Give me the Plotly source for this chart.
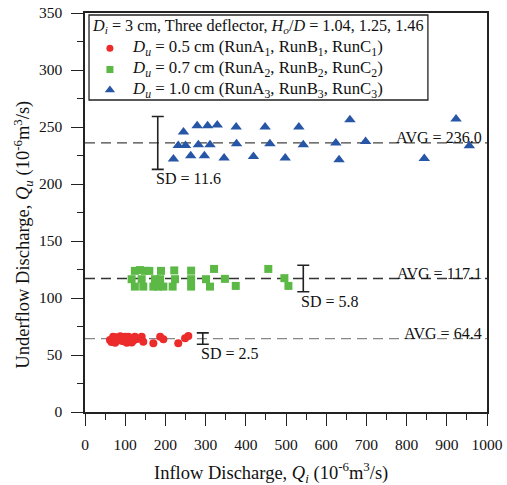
import plotly.graph_objects as go

# Run data: inflow discharge Qi and underflow discharge Qu (10^-6 m^3/s)
qi_du05 = [62, 66, 70, 75, 78, 83, 88, 91, 96, 100, 104, 108, 112, 116, 120, 124, 130,
           141, 145, 170, 187, 195, 232, 249, 257]
qu_du05 = [63.2, 61.5, 66.1, 60.8, 65.5, 64.7, 66.5, 62.6, 62.0, 66.1, 60.8, 66.0, 64.7,
           61.0, 62.6, 66.1, 64.0, 66.1, 61.7, 60.3, 66.1, 63.8, 60.3, 64.7, 66.7]

qi_du07 = [124, 137, 149, 160, 189, 222, 264, 321, 456,
           116, 141, 174, 187, 224, 264, 301, 348, 496,
           124, 145, 170, 182, 195, 218, 264, 311, 375, 506]
qu_du07 = [123.8, 124.5, 123.8, 123.8, 123.8, 124.2, 124.0, 125.5, 125.5,
           116.5, 116.5, 116.5, 116.5, 116.5, 116.5, 116.5, 116.8, 117.4,
           110.0, 110.0, 110.0, 110.0, 110.0, 110.0, 110.0, 110.0, 110.6, 110.6]

qi_du10 = [220, 245, 232, 250, 263, 279, 282, 297, 305, 311, 329, 346, 376, 377, 419,
           448, 460, 498, 532, 543, 624, 632, 659, 698, 844, 923, 956]
qu_du10 = [221.9, 245.6, 233.8, 233.8, 224.8, 251.1, 234.4, 224.8, 251.1, 234.4, 251.7,
           222.7, 250.0, 235.3, 224.1, 250.0, 235.3, 222.7, 250.0, 234.4, 235.9, 221.2,
           256.4, 237.3, 222.4, 257.0, 233.5]

# Summary statistics per outlet size
avg_values = [64.4, 117.1, 236.0]
sd_values = [2.5, 5.8, 11.6]
sd_bar_qi = [293, 543, 181]

series_names = [
    "<i>D<sub>u</sub></i> = 0.5 cm (RunA<sub>1</sub>, RunB<sub>1</sub>, RunC<sub>1</sub>)",
    "<i>D<sub>u</sub></i> = 0.7 cm (RunA<sub>2</sub>, RunB<sub>2</sub>, RunC<sub>2</sub>)",
    "<i>D<sub>u</sub></i> = 1.0 cm (RunA<sub>3</sub>, RunB<sub>3</sub>, RunC<sub>3</sub>)",
]
legend_title = ("<i>D<sub>i</sub></i> = 3 cm, Three deflector, "
                "<i>H<sub>o</sub></i>/<i>D</i> = 1.04, 1.25, 1.46")

x_ticks = [0, 100, 200, 300, 400, 500, 600, 700, 800, 900, 1000]
y_ticks = [0, 50, 100, 150, 200, 250, 300, 350]

FONT = "Liberation Serif, Times New Roman, serif"
INK = "#111111"
colors = ["#EC2B2B", "#5CB946", "#2756A6"]
symbols = ["circle", "square", "triangle-up"]
sizes = [8, 8, 10]
avg_line_colors = ["#888888", "#333333", "#444444"]

# Legend box layout, in fractions of the plotting area
LEG_BOX = dict(x0=0.010, x1=0.853, y0=0.782, y1=0.995)
LEG_TITLE_POS = (0.013, 0.966)
LEG_KEY_X = 0.062
LEG_TEXT_X = 0.113
LEG_ROWS_Y = [0.9115, 0.8584, 0.807]

fig = go.Figure()

xs = [qi_du05, qi_du07, qi_du10]
ys = [qu_du05, qu_du07, qu_du10]

# Average lines (drawn first so the markers sit on top)
for avg, lc in zip(avg_values, avg_line_colors):
    fig.add_trace(go.Scatter(
        x=[x_ticks[0], x_ticks[-1]], y=[avg, avg], mode="lines",
        line=dict(color=lc, width=1.3, dash="10px,6px"),
        showlegend=False, hoverinfo="skip"))

for x, y, name, c, s, sz in zip(xs, ys, series_names, colors, symbols, sizes):
    fig.add_trace(go.Scatter(
        x=x, y=y, mode="markers", name=name, showlegend=False,
        marker=dict(color=c, symbol=s, size=sz, line=dict(width=0))))

# Standard-deviation bars (avg +/- 2 SD)
for qx, avg, sd in zip(sd_bar_qi, avg_values, sd_values):
    fig.add_trace(go.Scatter(
        x=[qx], y=[avg], mode="markers",
        marker=dict(size=1, color="rgba(0,0,0,0)"),
        error_y=dict(type="constant", value=2 * sd, color="#222222",
                     thickness=1.6, width=6),
        showlegend=False, hoverinfo="skip"))

# Legend keys on an overlay axis spanning the plotting area
for ry, c, s, sz in zip(LEG_ROWS_Y, colors, symbols, sizes):
    fig.add_trace(go.Scatter(
        x=[LEG_KEY_X], y=[ry], xaxis="x2", yaxis="y2", mode="markers",
        marker=dict(color=c, symbol=s, size=sz - 1, line=dict(width=0)),
        showlegend=False, hoverinfo="skip"))

annotations = []
annotations.append(dict(
    x=LEG_TITLE_POS[0], y=LEG_TITLE_POS[1], xref="paper", yref="paper",
    xanchor="left", yanchor="middle", showarrow=False, text=legend_title,
    font=dict(family=FONT, size=16.2, color=INK)))
for ry, name in zip(LEG_ROWS_Y, series_names):
    annotations.append(dict(
        x=LEG_TEXT_X, y=ry, xref="paper", yref="paper",
        xanchor="left", yanchor="middle", showarrow=False, text=name,
        font=dict(family=FONT, size=16.8, color=INK)))

for avg in avg_values:
    annotations.append(dict(
        x=x_ticks[-1], y=avg, xref="x", yref="y", xanchor="right", yanchor="bottom",
        xshift=-3, yshift=-5, text=f"AVG = {avg:.1f}", showarrow=False,
        font=dict(family=FONT, size=16, color=INK)))
for qx, avg, sd in zip(sd_bar_qi, avg_values, sd_values):
    annotations.append(dict(
        x=qx, y=avg - 2 * sd, xref="x", yref="y", xanchor="left", yanchor="top",
        xshift=-4, yshift=1, text=f"SD = {sd}", showarrow=False,
        font=dict(family=FONT, size=16, color=INK)))

# Axis titles
annotations.append(dict(
    x=(271 - 85) / 402, y=-0.152, xref="paper", yref="paper",
    xanchor="center", yanchor="middle", showarrow=False,
    text="Inflow Discharge, <i>Q<sub>i</sub></i> (10<sup>-6</sup>m<sup>3</sup>/s)",
    font=dict(family=FONT, size=18.5, color=INK)))
annotations.append(dict(
    x=-0.155, y=(412 - 235) / 399, xref="paper", yref="paper",
    xanchor="center", yanchor="middle", showarrow=False, textangle=-90,
    text="Underflow Discharge, <i>Q<sub>u</sub></i> (10<sup>-6</sup>m<sup>3</sup>/s)",
    font=dict(family=FONT, size=18.5, color=INK)))

axis_common = dict(
    showgrid=False, zeroline=False, showline=True, linecolor="#222222", linewidth=1.5,
    mirror=True, ticks="outside", ticklen=12, tickwidth=1.3, tickcolor="#222222",
    tickfont=dict(family=FONT, size=15.5, color=INK), ticklabelstandoff=6,
    automargin=False,
)

fig.update_layout(
    width=507, height=485,
    margin=dict(l=85, r=20, t=13, b=73),
    paper_bgcolor="white", plot_bgcolor="white",
    font=dict(family=FONT, size=15, color=INK),
    xaxis=dict(range=[0, 1000], tickvals=x_ticks,
               minor=dict(ticks="outside", ticklen=6, dtick=50, tickwidth=1.3,
                          tickcolor="#222222"),
               **axis_common),
    yaxis=dict(range=[0, 350], tickvals=y_ticks,
               minor=dict(ticks="outside", ticklen=6, dtick=25, tickwidth=1.3,
                          tickcolor="#222222"),
               **axis_common),
    xaxis2=dict(range=[0, 1], overlaying="x", visible=False, automargin=False),
    yaxis2=dict(range=[0, 1], overlaying="y", visible=False, automargin=False),
    shapes=[dict(type="rect", xref="paper", yref="paper",
                 line=dict(color="#222222", width=1.3), fillcolor="white",
                 layer="below", **LEG_BOX)],
    annotations=annotations,
    showlegend=False,
)

fig.write_html("out.html")
